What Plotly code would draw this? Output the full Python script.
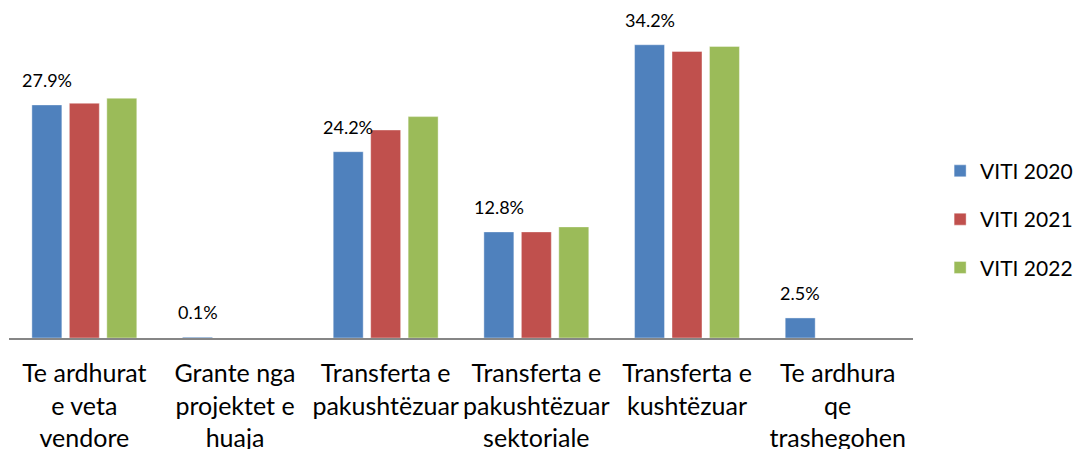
import plotly.graph_objects as go

categories = [
    "Te ardhurat<br>e veta<br>vendore",
    "Grante nga<br>projektet e<br>huaja",
    "Transferta e<br>pakushtëzuar",
    "Transferta e<br>pakushtëzuar<br>sektoriale",
    "Transferta e<br>kushtëzuar",
    "Te ardhura<br>qe<br>trashegohen",
]
series_names = ["VITI 2020", "VITI 2021", "VITI 2022"]
viti_2020 = [27.9, 0.1, 22.3, 12.7, 35.1, 2.4]
viti_2021 = [28.1, None, 24.9, 12.7, 34.3, None]
viti_2022 = [28.7, None, 26.5, 13.3, 34.9, None]
labels_2020 = ["27.9%", "0.1%", "24.2%", "12.8%", "34.2%", "2.5%"]
colors = ["#4F81BD", "#C0504D", "#9BBB59"]

FONT = "Lato"
BARGAP = 0.254

fig = go.Figure()
for name, vals, col in zip(series_names, [viti_2020, viti_2021, viti_2022], colors):
    fig.add_trace(go.Bar(
        name=name, x=list(range(len(categories))), y=vals,
        marker=dict(color=col, line=dict(color="rgba(255,255,255,0.4)", width=1)),
        legendgroup=name,
    ))

offset = -(1 - BARGAP) / 3
for i, (v, lab) in enumerate(zip(viti_2020, labels_2020)):
    fig.add_annotation(
        x=i + offset, y=v, xref="x", yref="y", text=lab, showarrow=False,
        yanchor="middle", yshift=25, font=dict(family=FONT, size=18, color="#000000"),
    )

fig.update_layout(
    width=1076, height=441,
    margin=dict(l=1, r=171, t=0, b=111, autoexpand=False),
    paper_bgcolor="white", plot_bgcolor="white",
    barmode="group", bargap=BARGAP, bargroupgap=0.2,
    font=dict(family=FONT, size=16, color="#000000"),
    showlegend=True,
    legend=dict(
        x=1.030, y=0.36, xanchor="left", yanchor="middle",
        font=dict(family=FONT, size=21, color="#000000"),
        traceorder="grouped", tracegroupgap=18,
        itemwidth=30, bgcolor="rgba(0,0,0,0)",
    ),
)
fig.update_xaxes(
    tickmode="array", tickvals=list(range(len(categories))), ticktext=categories,
    range=[-0.5, len(categories) - 0.5],
    showline=True, linecolor="#868686", linewidth=2,
    ticks="", showgrid=False, zeroline=False, automargin=False,
    tickfont=dict(family=FONT, size=25, color="#000000"),
    ticklabelstandoff=12,
)
fig.update_yaxes(range=[0, 39.5], visible=False, showgrid=False, zeroline=False,
                 automargin=False)

fig.write_html("out.html")
